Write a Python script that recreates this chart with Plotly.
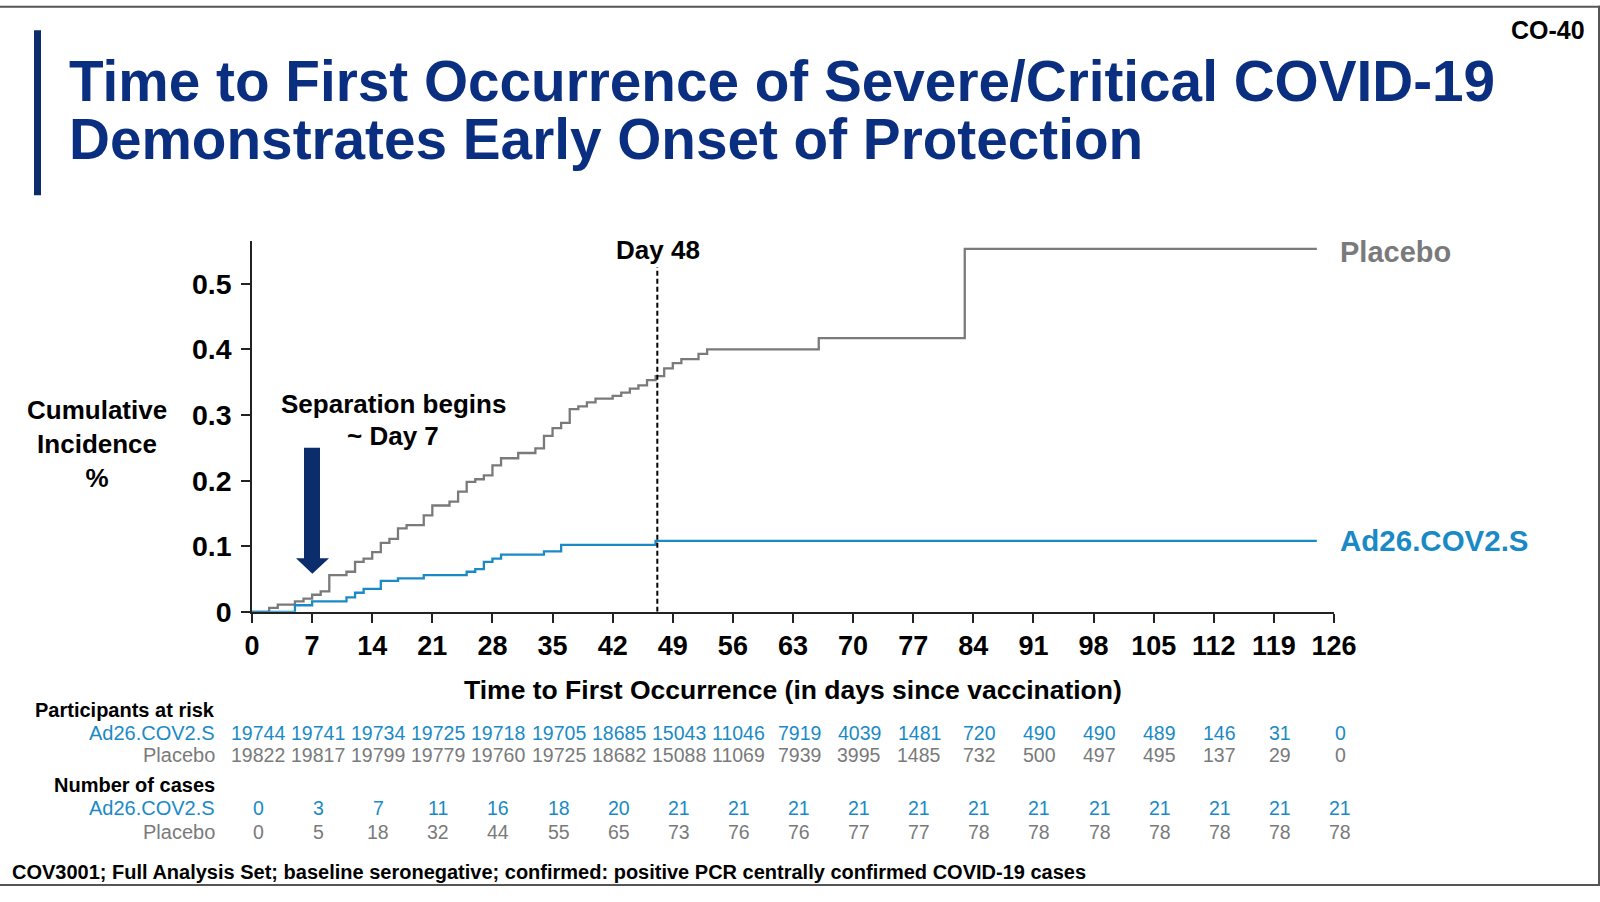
import plotly.graph_objects as go

# ---------------- data ----------------
placebo_days = [0, 2, 3, 5, 6, 7, 8, 9, 11, 12, 13, 14, 15, 16, 17, 18, 20, 21, 23, 24, 25, 26, 27, 28, 29,
                31, 33, 34, 35, 36, 37, 38, 39, 40, 42, 43, 44, 45, 46, 47, 48, 49, 50, 52, 53, 66, 83, 124]
placebo_ci = [0, 0.006, 0.011, 0.016, 0.020, 0.026, 0.031, 0.056, 0.061, 0.076, 0.081, 0.091, 0.105, 0.111,
              0.127, 0.132, 0.147, 0.162, 0.168, 0.183, 0.198, 0.202, 0.208, 0.223, 0.234,
              0.242, 0.249, 0.268, 0.280, 0.288, 0.309, 0.313, 0.319, 0.325, 0.329, 0.334, 0.340, 0.345,
              0.353, 0.359, 0.371, 0.379, 0.385, 0.393, 0.400, 0.417, 0.553, 0.553]

vaccine_days = [0, 5, 7, 11, 12, 13, 15, 17, 20, 25, 26, 27, 28, 29, 34, 36, 47, 124]
vaccine_ci = [0, 0.010, 0.016, 0.022, 0.029, 0.035, 0.047, 0.051, 0.056, 0.061, 0.065, 0.076, 0.081,
              0.087, 0.092, 0.102, 0.108, 0.108]

table_days = [0, 7, 14, 21, 28, 35, 42, 49, 56, 63, 70, 77, 84, 91, 98, 105, 112, 119, 126]
risk_vaccine = [19744, 19741, 19734, 19725, 19718, 19705, 18685, 15043, 11046, 7919, 4039, 1481, 720, 490,
                490, 489, 146, 31, 0]
risk_placebo = [19822, 19817, 19799, 19779, 19760, 19725, 18682, 15088, 11069, 7939, 3995, 1485, 732, 500,
                497, 495, 137, 29, 0]
cases_vaccine = [0, 3, 7, 11, 16, 18, 20, 21, 21, 21, 21, 21, 21, 21, 21, 21, 21, 21, 21]
cases_placebo = [0, 5, 18, 32, 44, 55, 65, 73, 76, 76, 77, 77, 78, 78, 78, 78, 78, 78, 78]

y_ticks = [0, 0.1, 0.2, 0.3, 0.4, 0.5]
y_ticktext = ["0", "0.1", "0.2", "0.3", "0.4", "0.5"]
day48_line = 47.2

# ---------------- styles / layout helpers ----------------
W, H = 1600, 902
PL, PR, PT, PB = 252, 1334, 241, 621
GRAY = "#7a7a7a"
BLUE = "#1a8ac6"
NAVY = "#0b2f80"
ARROW = "#0b2d6c"
FONT = "Liberation Sans, Arial, sans-serif"


def xp(px):
    return (px - PL) / (PR - PL)


def yp(py):
    return (H - py) / (H - PT)


main_bottom = yp(PB)

fig = go.Figure()

fig.add_trace(go.Scatter(x=placebo_days, y=placebo_ci, mode="lines", line=dict(shape="hv", color=GRAY, width=2.3),
                         hoverinfo="skip", showlegend=False))
fig.add_trace(go.Scatter(x=vaccine_days, y=vaccine_ci, mode="lines", line=dict(shape="hv", color=BLUE, width=2.3),
                         hoverinfo="skip", showlegend=False))

ann = []

# table rows: numbers placed on the x-axis scale, rows at fixed pixel heights
row_py = {"rv": 745, "rp": 768, "cv": 822.5, "cp": 847}
for key, vals, col in [("rv", risk_vaccine, BLUE), ("rp", risk_placebo, GRAY),
                       ("cv", cases_vaccine, BLUE), ("cp", cases_placebo, GRAY)]:
    for d, v in zip(table_days, vals):
        ann.append(dict(text=str(v), x=d, xref="x", y=yp(row_py[key]), yref="paper", xanchor="center",
                        yanchor="middle", xshift=6, showarrow=False,
                        font=dict(family=FONT, size=19.5, color=col)))


def add_text(text, px, py, size, color="black", xanchor="center", bold=True):
    ann.append(dict(text=text, x=xp(px), y=yp(py), xref="paper", yref="paper", xanchor=xanchor, yanchor="middle",
                    showarrow=False, font=dict(family=FONT, size=size, color=color,
                                               weight="bold" if bold else "normal")))


add_text("Time to First Occurrence of Severe/Critical COVID-19", 67, 78, 56.7, NAVY, "left")
add_text("Demonstrates Early Onset of Protection", 67, 137, 56.7, NAVY, "left")
add_text("CO-40", 1587, 25, 25, "black", "right")
add_text("Cumulative<br>Incidence<br>%", 97, 449, 26)
add_text("Separation begins", 393, 408, 26)
add_text("~ Day 7", 393, 441, 26)
add_text("Day 48", 658, 250, 26)
add_text("Placebo", 1338, 252, 29, GRAY, "left")
add_text("Ad26.COV2.S", 1338, 548, 29.5, BLUE, "left")
add_text("Time to First Occurrence (in days since vaccination)", 793, 701, 26.5)
add_text("Participants at risk", 217, 721.5, 20, "black", "right", True)
add_text("Ad26.COV2.S", 217, 745, 20, BLUE, "right", False)
add_text("Placebo", 217, 768, 20, GRAY, "right", False)
add_text("Number of cases", 217, 799, 20, "black", "right", True)
add_text("Ad26.COV2.S", 217, 822.5, 20, BLUE, "right", False)
add_text("Placebo", 217, 847, 20, GRAY, "right", False)
add_text("COV3001; Full Analysis Set; baseline seronegative; confirmed: positive PCR centrally confirmed COVID-19 cases",
         10, 888, 20, "black", "left")

shapes = []
# title bar
shapes.append(dict(type="rect", xref="paper", yref="paper", x0=xp(34), x1=xp(41), y0=yp(194), y1=yp(25),
                   fillcolor=ARROW, line=dict(width=0)))
# day-48 dashed line
shapes.append(dict(type="line", xref="x", yref="y", x0=day48_line, x1=day48_line, y0=0, y1=0.525,
                   line=dict(color="black", width=2, dash="5px,3px")))
# block arrow
arrow_path = "M {a},{b} L {c},{b} L {c},{d} L {e},{d} L {f},{g} L {h},{d} L {a2},{d} Z".format(
    a=xp(304), b=yp(453), c=xp(320), d=yp(566), e=xp(329), f=xp(312.3), g=yp(582), h=xp(296), a2=xp(304))
shapes.append(dict(type="path", xref="paper", yref="paper", path=arrow_path, fillcolor=ARROW, line=dict(width=0)))
# slide border (top, right, bottom)
for x0, y0, x1, y1 in [(0, 1, 1600, 1), (1599, 0, 1599, 902), (0, 901, 1600, 901)]:
    shapes.append(dict(type="line", xref="paper", yref="paper", x0=xp(x0), x1=xp(x1), y0=yp(y0), y1=yp(y1),
                       line=dict(color="#555555", width=2)))

fig.update_layout(
    width=W, height=H,
    margin=dict(l=PL, r=W - PR, t=PT, b=0),
    paper_bgcolor="white", plot_bgcolor="white",
    xaxis=dict(range=[0, 126], tickvals=table_days, ticks="outside", ticklen=9, tickwidth=1.5, tickcolor="#222",
               showline=True, linecolor="#222", linewidth=1.5, showgrid=False, zeroline=False, anchor="y",
               tickfont=dict(family=FONT, size=27, color="black", weight="bold"), ticklabelstandoff=0),
    yaxis=dict(range=[0, (PB - PT) / 672.5], domain=[main_bottom, 1], tickvals=y_ticks, ticktext=y_ticktext,
               ticks="outside", ticklen=9, tickwidth=1.5, tickcolor="#222", showline=True, linecolor="#222",
               linewidth=1.5, showgrid=False, zeroline=False,
               tickfont=dict(family=FONT, size=28.5, color="black", weight="bold"), ticklabelstandoff=4),
    annotations=ann, shapes=shapes,
)

page_fix = (
    "var gd=document.getElementById('{plot_id}');"
    "gd.style.position='fixed';gd.style.top='0px';gd.style.left='0px';"
    "document.documentElement.style.margin='0';document.documentElement.style.padding='0';"
    "document.documentElement.style.overflow='hidden';document.documentElement.style.height='902px';"
    "document.body.style.margin='0';document.body.style.padding='0';"
    "document.body.style.overflow='hidden';document.body.style.height='902px';"
)
fig.write_html("out.html", config={"displayModeBar": False}, post_script=page_fix)
